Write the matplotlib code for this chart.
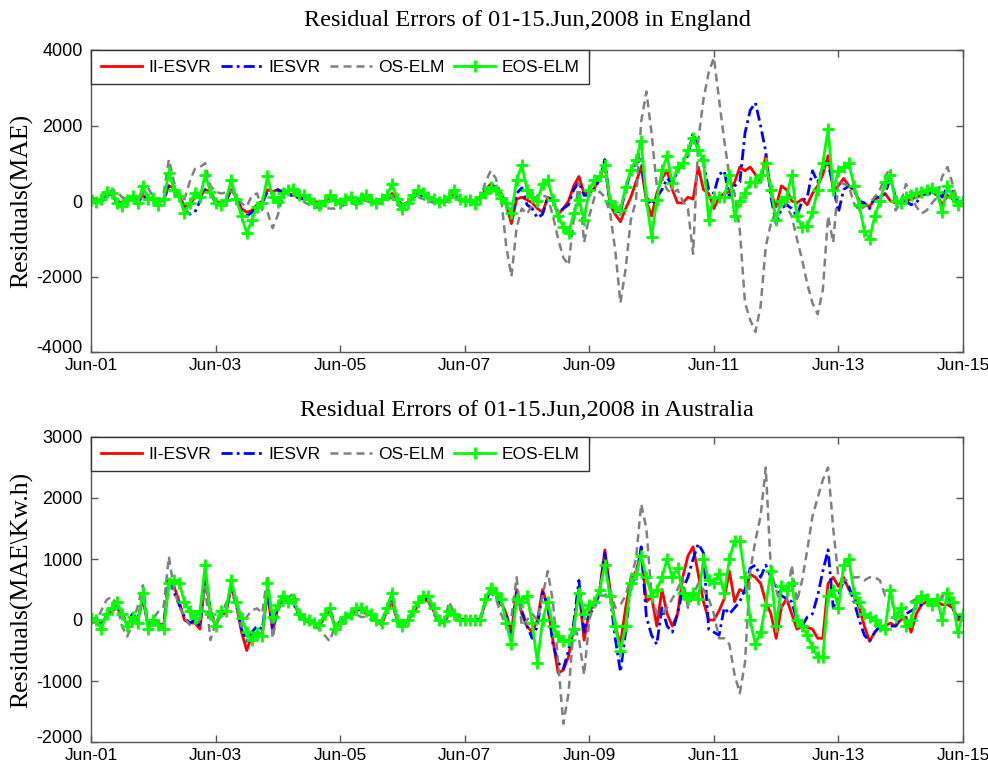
import numpy as np
import matplotlib
matplotlib.use("Agg")
import matplotlib.pyplot as plt
from matplotlib.transforms import ScaledTranslation

# ---------------- data (2-hour steps, Jun-01 00h .. Jun-15 00h) ----------------
tick_pos = [0, 2, 4, 6, 8, 10, 12, 14]
tick_labels = ["Jun-01", "Jun-03", "Jun-05", "Jun-07", "Jun-09", "Jun-11", "Jun-13", "Jun-15"]
series_labels = ["II-ESVR", "IESVR", "OS-ELM", "EOS-ELM"]

eng_ii = [
    20, 0, 50, 150, 200, 0, -50, 0, 100, 0, 150, 50,
    100, -50, 50, 400, 350, 150, -150, -100, 100, 100, 300, 250,
    0, -50, 0, 300, 100, -200, -300, -250, -100, 0, 300, 250,
    300, 250, 200, 150, 100, 80, 50, 0, -50, 0, 80, 20,
    -30, 40, 60, -30, 50, 80, 20, -40, 30, 80, 200, 50,
    -100, -30, 100, 200, 150, 80, 30, -20, 20, 80, 200, 50,
    0, 20, -30, 100, 300, 450, 350, 200, -100, -600, 50, 100,
    30, -50, -200, -300, 100, 0, -350, -200, 0, 400, 650, 200,
    200, 350, 600, 950, -100, -350, -550, -200, 100, 500, 900, 0,
    -400, 200, 600, 800, 300, -50, -50, 100, 50, 900, 300, 200,
    -200, 100, 200, 250, 500, 900, 800, 900, 700, 500, 1200, 200,
    -150, 400, 300, 0, -50, 50, -100, 200, 400, 700, 1200, 300,
    400, 600, 400, 300, 0, -100, -150, 50, 100, 200, 0, -50,
    -50, 0, 50, 100, 150, 200, 250, 150, -100, 150, 50, -50,
    0]

eng_i = [
    0, -50, 60, 150, 180, -50, -80, 0, 80, -30, 120, 30,
    80, -80, 40, 400, 300, 100, -250, -350, -300, 0, 300, 200,
    -50, -100, 0, 300, 80, -250, -400, -300, -150, -50, 250, 200,
    300, 200, 150, 150, 80, 50, 30, -30, -80, -20, 60, 0,
    -50, 30, 50, -50, 40, 60, 0, -60, 20, 60, 150, 30,
    -120, -50, 80, 180, 130, 60, 20, -30, 0, 60, 180, 30,
    0, 20, -50, 100, 250, 400, 380, 150, -100, -400, 200, 350,
    -100, -200, -450, -350, 100, 0, -300, -200, -100, 300, 500, 150,
    150, 300, 600, 1100, -100, -250, -300, 300, 800, 1000, 1100, 100,
    -100, 100, 300, 600, 450, 800, 1000, 1200, 1800, 1400, 1000, 300,
    200, 700, 800, 100, 400, 500, 1800, 2400, 2600, 2000, 1300, 100,
    -600, -200, -100, -200, -400, 0, 100, 800, 500, 900, 1000, 400,
    -300, 300, 400, 300, 0, -50, -200, 100, 100, 200, 600, 100,
    -100, 0, -100, -50, 150, 200, 200, 250, 100, 400, 250, 0,
    0]

eng_os = [
    150, 0, -50, 100, 300, 250, 100, 50, 50, -30, 200, 350,
    100, 0, 200, 1100, 500, 100, 50, 500, 850, 900, 1000, 400,
    250, 200, 220, 270, 120, -60, -150, 150, 200, -240, -290, -720,
    -370, 160, 250, 290, 110, -20, -100, -150, -200, -180, -200, -200,
    -150, -100, -50, -100, 0, 0, -50, -100, 0, 50, 80, -100,
    -200, -50, 50, 100, 50, 0, -50, 0, -50, 0, 100, 0,
    0, 50, -30, 50, 500, 800, 600, 100, -1200, -2000, -700, -200,
    -350, -100, 150, 150, 100, -400, -1000, -1500, -1700, -500, 500, -1100,
    -400, 100, 250, 100, -300, -1300, -2700, -1800, -500, 0, 2100, 2900,
    1800, 400, 600, 300, 200, 300, 0, -200, -1400, 1600, 2700, 3400,
    3800, 2700, 1600, 650, 200, -770, -2700, -3150, -3470, -2800, -1200, -600,
    -250, 100, -150, -400, -1000, -1550, -2200, -2700, -3000, -2350, -400, -1100,
    550, 450, 400, -60, -250, -150, -60, 100, 300, 650, 870, -250,
    -60, 450, 200, -150, -330, -250, -60, 100, 650, 900, 450, -60,
    -100]

eng_eos = [
    30, -30, 50, 250, 220, -50, -120, 20, 130, -60, 400, 50,
    80, -100, 60, 750, 300, 120, -330, -60, 200, 100, 700, 250,
    -50, -100, 30, 550, 50, -400, -850, -500, -150, -50, 650, 100,
    -30, 200, 300, 330, 150, 150, 50, -50, -100, 0, 150, 20,
    -50, 60, 100, -50, 80, 150, 20, -60, 50, 150, 450, 50,
    -220, -50, 150, 300, 200, 100, 50, -30, 20, 100, 300, 50,
    0, 30, -80, 100, 200, 380, 300, 70, -60, -330, 550, 950,
    300, 100, 0, 450, 550, 30, -400, -680, -850, -330, 30, -500,
    300, 550, 650, 950, 0, -150, -240, 380, 820, 1090, 1580, 30,
    -950, 30, 820, 1180, 470, 910, 1000, 1350, 1660, 1350, 1090, -500,
    100, 100, 100, 700, -400, 0, 200, 500, 500, 700, 1000, 300,
    -500, 0, 100, 700, -400, -700, -650, -300, 300, 1000, 1900, 300,
    800, 900, 1000, 400, -100, -800, -1000, -400, 0, 500, 700, 0,
    -50, 100, 150, 200, 250, 300, 350, 250, -300, 400, 100, -100,
    0]

aus_ii = [
    30, 20, -100, 80, 150, 200, 80, -80, 50, 0, 350, -100,
    0, -50, -100, 600, 550, 300, 0, -50, -50, -150, 700, 150,
    -100, 100, 100, 550, 250, -200, -500, -250, -200, -250, 450, -200,
    200, 350, 300, 300, 100, 0, -30, -50, -100, 50, 150, -100,
    -50, 20, 100, 150, 180, 100, 80, -20, -80, 150, 300, 0,
    -120, 0, 100, 250, 350, 300, 150, -20, -50, 100, 80, 0,
    0, 0, 0, 0, 300, 500, 450, 300, 100, -200, 500, 100,
    -100, -200, 0, 500, 200, -330, -870, -820, -600, -100, 500, -330,
    150, 250, 500, 1150, 500, -100, -400, 200, 650, 800, 1100, 300,
    380, -100, 500, 100, -100, 100, 700, 1050, 1200, 750, 300, 0,
    0, 150, 350, 800, 300, 500, 450, 750, 700, 600, 300, 100,
    -300, 200, 350, 100, -150, -100, -120, -150, -300, -300, 600, 700,
    550, 700, 500, 400, 200, -100, -350, -200, -100, -100, -50, -100,
    0, 50, -200, 100, 250, 300, 300, 300, 250, 250, 200, 0,
    50]

aus_i = [
    30, 30, -80, 100, 200, 250, 100, -50, 100, 0, 380, -80,
    0, -30, -80, 700, 450, 250, 50, -50, 0, -100, 800, 150,
    -80, 120, 100, 600, 300, -150, -350, -200, -100, -150, 500, -150,
    250, 380, 280, 280, 80, 0, -20, -50, -80, 80, 180, -80,
    -30, 50, 100, 150, 200, 120, 80, 0, -50, 200, 350, 0,
    -100, 0, 130, 280, 380, 350, 180, 0, -30, 150, 80, 20,
    0, 0, 0, 20, 300, 500, 400, 250, 100, -300, 450, 150,
    -100, -300, -100, 450, 250, -400, -700, -800, -500, -50, 650, -200,
    100, 200, 450, 1100, 400, -300, -850, -200, 600, 700, 1200, 50,
    -250, -400, 200, -100, -200, 100, 500, 700, 1000, 1250, 1100, -150,
    -200, -250, 200, 100, 200, 300, 500, 850, 900, 700, 900, 700,
    550, 400, 350, 300, 0, -100, 50, 100, 400, 800, 1150, 200,
    400, 650, 550, 300, 0, -250, -350, -200, -100, -100, -100, -100,
    50, 100, 150, 200, 250, 300, 300, 350, 350, 400, 200, 50,
    80]

aus_os = [
    -55, -30, 160, 330, 380, 250, -110, -270, -50, 220, 570, -80,
    30, 140, 220, 1040, 490, 220, 50, -80, -80, 0, 550, -330,
    -50, 50, 270, 490, 220, -110, 50, 160, 190, 110, 740, -300,
    150, 300, 350, 450, 150, 0, -50, -100, -150, -250, -350, -100,
    -50, 50, 100, 100, 50, 50, 0, -20, 0, 200, 300, -50,
    -100, 0, 150, 300, 350, 300, 100, -50, -50, 300, 100, 0,
    0, 0, 0, 30, 300, 450, 350, 100, -100, 50, 700, -100,
    0, 100, 0, 400, 800, 300, -700, -1700, -1200, -100, -300, -900,
    0, 300, 400, 400, 500, 200, 250, 400, 700, 1000, 1900, 1500,
    400, 100, 100, 200, 350, 500, 700, 200, 400, 600, 500, 350,
    100, -300, -300, -400, -900, -1200, -700, 800, 1300, 1700, 2500, 800,
    500, 200, 300, 900, 300, 650, 1150, 1700, 2000, 2300, 2500, 1500,
    700, 650, 650, 700, 700, 650, 700, 700, 650, 400, 500, -50,
    200, 200, 300, 350, 400, 400, 400, 250, 400, 350, 250, 0,
    50]

aus_eos = [
    30, 0, -150, 100, 200, 300, 100, -100, 50, -50, 440, -150,
    0, -80, -150, 600, 650, 600, 300, 150, 30, 150, 900, 100,
    -100, 150, 150, 650, 300, 30, -200, -330, -220, -270, 600, 50,
    250, 400, 300, 350, 100, 20, 0, -50, -80, 100, 200, -150,
    -50, 50, 100, 200, 200, 150, 100, 0, -50, 200, 450, 0,
    -100, 0, 150, 300, 400, 400, 200, 0, -20, 150, 100, 0,
    0, 0, 0, 0, 350, 530, 450, 350, -50, -400, 350, 300,
    400, -50, -700, 0, 300, -100, -270, -350, -330, -150, 450, 100,
    250, 300, 500, 900, 400, -100, -500, -100, 600, 750, 1050, 700,
    400, 500, 700, 1000, 700, 850, 450, 350, 450, 350, 1000, 650,
    600, 760, 440, 1000, 1300, 1300, 700, 0, -400, -200, 250, 800,
    -100, 550, 500, 600, 0, -100, -250, -450, -600, -600, 400, 500,
    200, 900, 1000, 450, 300, 100, 50, 0, -100, -150, 500, 50,
    200, -100, 0, 300, 400, 350, 250, 350, 0, 450, 300, -200,
    100]

panels = [
    dict(title="Residual Errors of 01-15.Jun,2008 in England",
         ylabel="Residuals(MAE)", data=[eng_ii, eng_i, eng_os, eng_eos],
         ylim=(-4000, 4000), yticks=[-4000, -2000, 0, 2000, 4000]),
    dict(title="Residual Errors of 01-15.Jun,2008 in Australia",
         ylabel="Residuals(MAE\\Kw.h)", data=[aus_ii, aus_i, aus_os, aus_eos],
         ylim=(-2000, 3000), yticks=[-2000, -1000, 0, 1000, 2000, 3000]),
]

# ---------------- figure ----------------
W, H = 988, 762
fig = plt.figure(figsize=(W / 100, H / 100), dpi=100)
axes_rects = [
    [91 / W, 1 - 352 / H, 872 / W, 302 / H],
    [91 / W, 1 - 742 / H, 872 / W, 305 / H],
]
title_pads = [17, 15]

styles = [
    dict(color="#ff0000", lw=2.0, ls="-"),
    dict(color="#0000ff", lw=2.0, ls=(0, (4, 1.5, 1, 1.5))),
    dict(color="#808080", lw=1.8, ls=(0, (3.2, 2.0))),
    dict(color="#00ff00", lw=2.0, ls="-", marker="+", ms=9, mew=2.0),
]

sans = "Liberation Sans"
serif = "Liberation Serif"
frame_col = "#555555"

for rect, p, tpad in zip(axes_rects, panels, title_pads):
    ax = fig.add_axes(rect)
    n = len(p["data"][0])
    x = np.arange(n) / 12.0
    handles = []
    for vals, st, lab in zip(p["data"], styles, series_labels):
        h, = ax.plot(x, vals, label=lab, **st)
        handles.append(h)
    ax.set_xlim(0, 14)
    ax.set_ylim(*p["ylim"])
    ax.set_xticks(tick_pos)
    ax.set_xticklabels(tick_labels, fontfamily=sans, fontsize=12.5)
    ax.set_yticks(p["yticks"])
    ax.set_yticklabels([str(v) for v in p["yticks"]], fontfamily=sans, fontsize=13,
                       va="center_baseline")
    ax.tick_params(direction="in", top=True, right=True, length=5,
                   color=frame_col, width=1, labelcolor="black")
    ax.tick_params(axis="x", pad=4)
    ax.tick_params(axis="y", pad=6)
    # lift the lowest y label slightly so it does not touch the first date label
    low = ax.yaxis.get_majorticklabels()[0]
    low.set_transform(low.get_transform() + ScaledTranslation(0, 4 / 72, fig.dpi_scale_trans))
    for s in ax.spines.values():
        s.set_color(frame_col)
        s.set_linewidth(1.0)
    ax.set_title(p["title"], fontfamily=serif, fontsize=17.5, pad=tpad)
    ax.set_ylabel(p["ylabel"], fontfamily=serif, fontsize=18.5, labelpad=2)
    leg = ax.legend(handles=handles, loc="upper left", bbox_to_anchor=(0, 1),
                    borderaxespad=0, ncol=4, frameon=True, fancybox=False,
                    handlelength=2.4, handletextpad=0.35, columnspacing=0.55,
                    borderpad=0.55, prop=dict(family=sans, size=12.5))
    leg.get_frame().set_edgecolor("#333333")
    leg.get_frame().set_linewidth(1.0)
    leg.get_frame().set_alpha(1)

fig.savefig("out.png", dpi=100)
